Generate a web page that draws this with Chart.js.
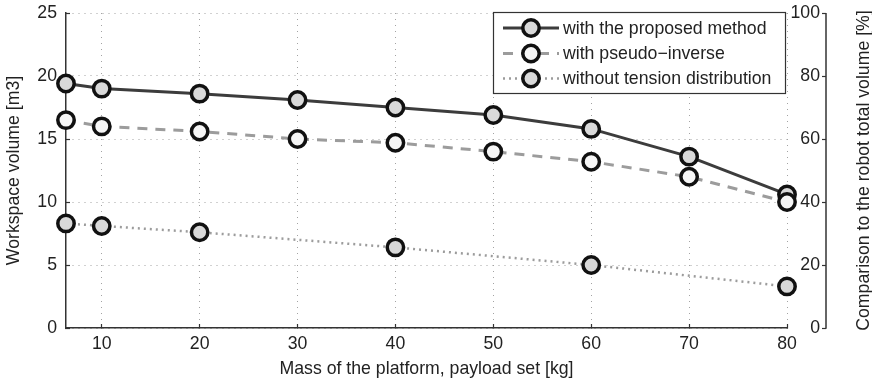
<!DOCTYPE html>
<html><head><meta charset="utf-8">
<script src="https://cdn.jsdelivr.net/npm/chart.js@4.4.1/dist/chart.umd.min.js"></script>
<style>html,body{margin:0;padding:0;background:#fff}canvas{display:block}</style>
</head><body>
<canvas id="c" width="872" height="385"></canvas>
<script>
// ---- data ----
const masses   = [6.35, 10, 20, 30, 40, 50, 60, 70, 80];
const xTicks   = [10, 20, 30, 40, 50, 60, 70, 80];
const y2Ticks  = [0, 20, 40, 60, 80, 100];
const proposed = [19.4, 19.0, 18.6, 18.1, 17.5, 16.9, 15.8, 13.6, 10.6];
const pseudo   = [16.5, 16.0, 15.6, 15.0, 14.7, 14.0, 13.2, 12.0, 10.0];
const without  = [8.3, 8.1, 7.6, null, 6.4, null, 5.0, null, 3.3];
const seriesLabels = ['with the proposed method', 'with pseudo\u2212inverse', 'without tension distribution'];
const xTitle = 'Mass of the platform, payload set [kg]';
const yTitle = 'Workspace volume [m3]';
const y2Title = 'Comparison to the robot total volume [%]';

// ---- styles ----
const FONT = '"Liberation Sans", Arial, Helvetica, sans-serif';
const FS = 17.7;
Chart.defaults.font.family = FONT;
Chart.defaults.font.size = FS;
Chart.defaults.color = '#222';

const styles = [
  {line: '#3c3c3c', dash: [], width: 3, fill: '#d9d9d9'},
  {line: '#9c9c9c', dash: [10, 8], width: 3, fill: '#f6f6f6'},
  {line: '#9c9c9c', dash: [2, 4], width: 2.5, fill: '#d9d9d9'}
];
const series = [proposed, pseudo, without];

function pts(arr) {
  const out = [];
  masses.forEach((m, i) => { if (arr[i] !== null) out.push({x: m, y: arr[i]}); });
  return out;
}

const datasets = series.map((arr, i) => ({
  label: seriesLabels[i],
  data: pts(arr),
  borderColor: styles[i].line,
  borderWidth: styles[i].width,
  borderDash: styles[i].dash,
  backgroundColor: styles[i].fill,
  pointBackgroundColor: styles[i].fill,
  pointBorderColor: '#111',
  pointBorderWidth: 3.5,
  pointRadius: 8.2,
  pointHoverRadius: 8.2,
  tension: 0,
  clip: false,
  yAxisID: 'y',
  order: 3 - i
}));

const GRID = '#a3a3a3';
const AXIS_X2 = 826;

const extras = {
  id: 'extras',
  afterDraw(chart) {
    const ctx = chart.ctx;
    const s = chart.scales.y2;
    const area = chart.chartArea;
    // right axis: line, inward ticks, labels
    ctx.save();
    ctx.strokeStyle = '#333';
    ctx.lineWidth = 1.5;
    ctx.beginPath();
    ctx.moveTo(AXIS_X2, area.top);
    ctx.lineTo(AXIS_X2, area.bottom + 0.75);
    ctx.stroke();
    ctx.lineWidth = 1.2;
    ctx.font = FS + 'px ' + FONT;
    ctx.fillStyle = '#222';
    ctx.textAlign = 'right';
    ctx.textBaseline = 'middle';
    y2Ticks.forEach(v => {
      const py = Math.round(s.getPixelForValue(v)) + 0.5;
      ctx.beginPath();
      ctx.moveTo(AXIS_X2 - 4, py);
      ctx.lineTo(AXIS_X2, py);
      ctx.stroke();
      ctx.fillText(String(v), AXIS_X2 - 6, py);
    });
    // right axis title
    ctx.textAlign = 'center';
    ctx.translate(864, (area.top + area.bottom) / 2);
    ctx.rotate(-Math.PI / 2);
    ctx.fillText(y2Title, 0, 0);
    ctx.restore();

    // legend box
    const L = 493, T = 12, W = 292, H = 81;
    ctx.save();
    ctx.fillStyle = '#fff';
    ctx.fillRect(L, T, W, H);
    ctx.strokeStyle = '#333';
    ctx.lineWidth = 1.2;
    ctx.strokeRect(L + 0.5, T + 0.5, W, H);
    const rows = [28, 53.5, 78.5];
    rows.forEach((ry, i) => {
      const st = styles[i];
      ctx.save();
      ctx.strokeStyle = st.line;
      ctx.lineWidth = st.width;
      ctx.setLineDash(st.dash);
      ctx.beginPath();
      ctx.moveTo(503, ry);
      ctx.lineTo(559, ry);
      ctx.stroke();
      ctx.restore();
      ctx.beginPath();
      ctx.arc(531, ry, 8.2, 0, Math.PI * 2);
      ctx.fillStyle = st.fill;
      ctx.fill();
      ctx.lineWidth = 3.5;
      ctx.strokeStyle = '#111';
      ctx.stroke();
      ctx.fillStyle = '#222';
      ctx.font = FS + 'px ' + FONT;
      ctx.textAlign = 'left';
      ctx.textBaseline = 'middle';
      ctx.fillText(seriesLabels[i], 563, ry + 1);
    });
    ctx.restore();
  }
};

new Chart(document.getElementById('c'), {
  type: 'line',
  data: {datasets},
  options: {
    responsive: false,
    animation: false,
    events: [],
    layout: {padding: {top: 13, left: 0, right: 0, bottom: 0}},
    plugins: {legend: {display: false}, tooltip: {enabled: false}},
    scales: {
      x: {
        type: 'linear', position: 'bottom', min: masses[0], max: 80,
        afterBuildTicks: s => { s.ticks = xTicks.map(v => ({value: v})); },
        afterFit: s => { s.height = 57; s.paddingLeft = 0; s.paddingRight = 0; },
        ticks: {padding: 9.5, autoSkip: false, maxRotation: 0, color: '#222'},
        grid: {color: GRID, lineWidth: 1, tickLength: -4, tickColor: '#333', tickWidth: 1.2, tickBorderDash: []},
        border: {display: true, color: '#333', width: 1.5, dash: [1, 5]},
        title: {display: true, text: xTitle, color: '#222', padding: {top: 0, bottom: 5.5}}
      },
      y: {
        position: 'left', min: 0, max: 25,
        afterFit: s => { s.width = 66; s.paddingTop = 0; s.paddingBottom = 0; },
        ticks: {stepSize: 5, padding: 13, color: '#222'},
        grid: {color: GRID, lineWidth: 1, tickLength: -4, tickColor: '#333', tickWidth: 1.2, tickBorderDash: []},
        border: {display: true, color: '#333', width: 1.5, dash: [1, 5]},
        title: {display: true, text: yTitle, color: '#222', padding: {top: 3, bottom: 0}}
      },
      y2: {
        position: 'right', min: 0, max: 100,
        afterBuildTicks: s => { s.ticks = y2Ticks.map(v => ({value: v})); },
        afterFit: s => { s.width = 85; s.paddingTop = 0; s.paddingBottom = 0; },
        ticks: {display: false},
        grid: {display: false},
        border: {display: false}
      }
    }
  },
  plugins: [extras]
});
</script>
</body></html>
